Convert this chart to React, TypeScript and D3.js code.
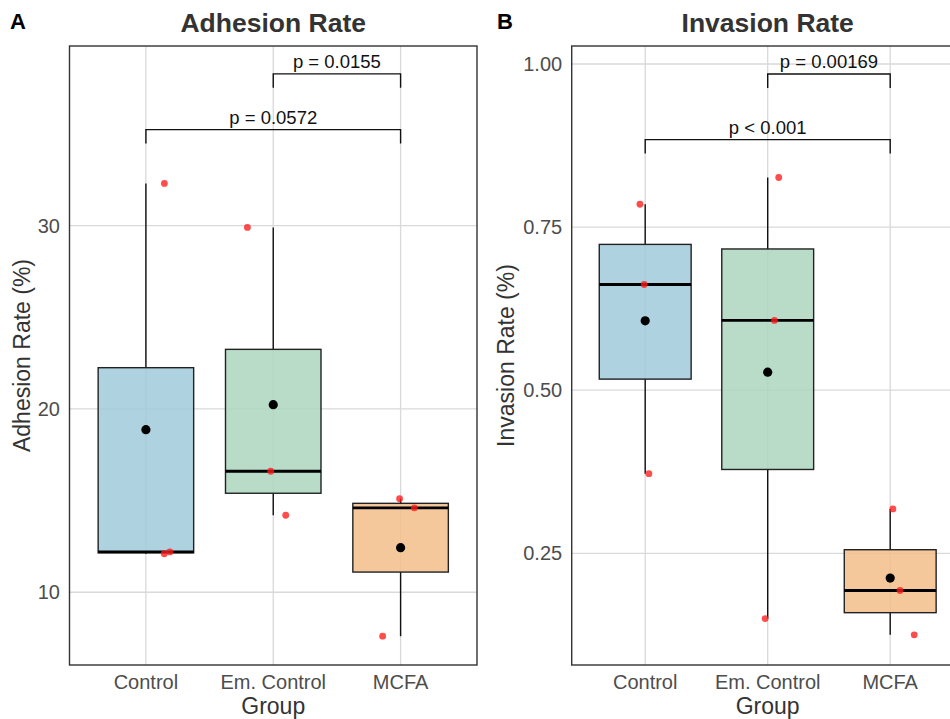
import * as d3 from 'd3';

const groups = ['Control', 'Em. Control', 'MCFA'];

const adhesionValues = [
  [32.3, 12.1, 12.2],
  [29.9, 16.6, 14.2],
  [15.1, 14.6, 7.6],
];
// horizontal jitter of the red points, in category units
const adhesionJitter = [
  [0.145, 0.144, 0.188],
  [-0.203, -0.02, 0.098],
  [-0.008, 0.108, -0.141],
];
const adhesionTicks = [10, 20, 30];
const adhesionDomain = [6.03, 39.8];
const adhesionTests = [
  { from: 1, to: 2, y: 38.28, label: 'p = 0.0155' },
  { from: 0, to: 2, y: 35.24, label: 'p = 0.0572' },
];

const invasionValues = [
  [0.785, 0.662, 0.372],
  [0.826, 0.607, 0.15],
  [0.318, 0.193, 0.125],
];
const invasionJitter = [
  [-0.043, -0.008, 0.03],
  [0.09, 0.055, -0.021],
  [0.022, 0.08, 0.196],
];
const invasionTicks = [0.25, 0.5, 0.75, 1.0];
const invasionDomain = [0.0788, 1.0276];
const invasionTests = [
  { from: 1, to: 2, y: 0.9847, label: 'p = 0.00169' },
  { from: 0, to: 2, y: 0.8841, label: 'p < 0.001' },
];

const fills = ['#A0CADA', '#ADD6BE', '#F3BE8A'];
const font = '"Liberation Sans", Arial, Helvetica, sans-serif';

type Test = { from: number; to: number; y: number; label: string };

type PanelProps = {
  letter: string;
  letterX: number;
  title: string;
  yTitle: string;
  yTitleX: number;
  left: number;
  right: number;
  values: number[][];
  jitter: number[][];
  ticks: number[];
  domain: number[];
  tickFormat: (v: number) => string;
  tests: Test[];
};

function stats(v: number[]) {
  const s = [...v].sort(d3.ascending);
  const q1 = d3.quantile(s, 0.25)!;
  const med = d3.quantile(s, 0.5)!;
  const q3 = d3.quantile(s, 0.75)!;
  const iqr = q3 - q1;
  const lo = d3.min(s.filter(d => d >= q1 - 1.5 * iqr))!;
  const hi = d3.max(s.filter(d => d <= q3 + 1.5 * iqr))!;
  return { q1, med, q3, lo, hi, mean: d3.mean(s)! };
}

function Panel(p: PanelProps) {
  const top = 46;
  const bottom = 665;
  const x = d3.scalePoint<string>().domain(groups).range([p.left, p.right]).padding(0.6);
  const step = x.step();
  const y = d3.scaleLinear().domain(p.domain).range([bottom, top]);
  const bw = step * 0.75;
  const cx = (p.left + p.right) / 2;

  return (
    <g>
      <text x={p.letterX} y={29.3} fontSize={22} fontWeight="bold" fill="#000">{p.letter}</text>
      <text x={cx} y={31.5} fontSize={26.5} fontWeight="bold" fill="#333" textAnchor="middle">{p.title}</text>

      {/* grid */}
      {p.ticks.map(t => (
        <line key={'h' + t} x1={p.left} x2={p.right} y1={y(t)} y2={y(t)} stroke="#d9d9d9" strokeWidth={1.3} />
      ))}
      {groups.map(g => (
        <line key={'v' + g} x1={x(g)} x2={x(g)} y1={top} y2={bottom} stroke="#d9d9d9" strokeWidth={1.3} />
      ))}

      {/* boxes */}
      {groups.map((g, i) => {
        const s = stats(p.values[i]);
        const c = x(g)!;
        return (
          <g key={g}>
            <line x1={c} x2={c} y1={y(s.hi)} y2={y(s.q3)} stroke="#111" strokeWidth={1.4} />
            <line x1={c} x2={c} y1={y(s.q1)} y2={y(s.lo)} stroke="#111" strokeWidth={1.4} />
            <rect x={c - bw / 2} y={y(s.q3)} width={bw} height={y(s.q1) - y(s.q3)}
              fill={fills[i]} fillOpacity={0.85} stroke="#222" strokeWidth={1.4} />
            <line x1={c - bw / 2} x2={c + bw / 2} y1={y(s.med)} y2={y(s.med)} stroke="#000" strokeWidth={2.8} />
            {p.values[i].map((v, j) => (
              <circle key={j} cx={c + p.jitter[i][j] * step} cy={y(v)} r={3.4} fill="#ff1a1a" fillOpacity={0.78} />
            ))}
            <circle cx={c} cy={y(s.mean)} r={4.6} fill="#000" />
          </g>
        );
      })}

      {/* comparisons */}
      {p.tests.map(t => {
        const x1 = x(groups[t.from])!;
        const x2 = x(groups[t.to])!;
        const yy = y(t.y);
        return (
          <g key={t.label}>
            <path d={`M${x1},${yy + 14}V${yy}H${x2}V${yy + 14}`} fill="none" stroke="#111" strokeWidth={1.4} />
            <text x={(x1 + x2) / 2} y={yy - 5.7} fontSize={18.5} textAnchor="middle" fill="#111">{t.label}</text>
          </g>
        );
      })}

      {/* panel border */}
      <rect x={p.left} y={top} width={p.right - p.left} height={bottom - top} fill="none" stroke="#333" strokeWidth={1.4} />

      {/* axes text */}
      {p.ticks.map(t => (
        <text key={'t' + t} x={p.left - 9.5} y={y(t)} dy="0.35em" fontSize={20} textAnchor="end" fill="#4d4d4d">
          {p.tickFormat(t)}
        </text>
      ))}
      {groups.map(g => (
        <text key={'x' + g} x={x(g)} y={689.3} fontSize={20} textAnchor="middle" fill="#4d4d4d">{g}</text>
      ))}
      <text x={cx} y={714} fontSize={23} textAnchor="middle" fill="#333">Group</text>
      <text transform={`translate(${p.yTitleX},${(top + bottom) / 2}) rotate(-90)`} fontSize={23} textAnchor="middle" fill="#333">
        {p.yTitle}
      </text>
    </g>
  );
}

export default function App() {
  return (
    <svg width={950} height={719} style={{ position: 'absolute', left: 0, top: 0, background: '#fff' }}
      fontFamily={font}>
      <rect width={950} height={719} fill="#fff" />
      <Panel letter="A" letterX={10} title="Adhesion Rate" yTitle="Adhesion Rate (%)" yTitleX={30}
        left={69.5} right={477} values={adhesionValues} jitter={adhesionJitter} ticks={adhesionTicks}
        domain={adhesionDomain} tickFormat={d3.format('d')} tests={adhesionTests} />
      <Panel letter="B" letterX={497} title="Invasion Rate" yTitle="Invasion Rate (%)" yTitleX={514.3}
        left={571.7} right={963.7} values={invasionValues} jitter={invasionJitter} ticks={invasionTicks}
        domain={invasionDomain} tickFormat={d3.format('.2f')} tests={invasionTests} />
    </svg>
  );
}
